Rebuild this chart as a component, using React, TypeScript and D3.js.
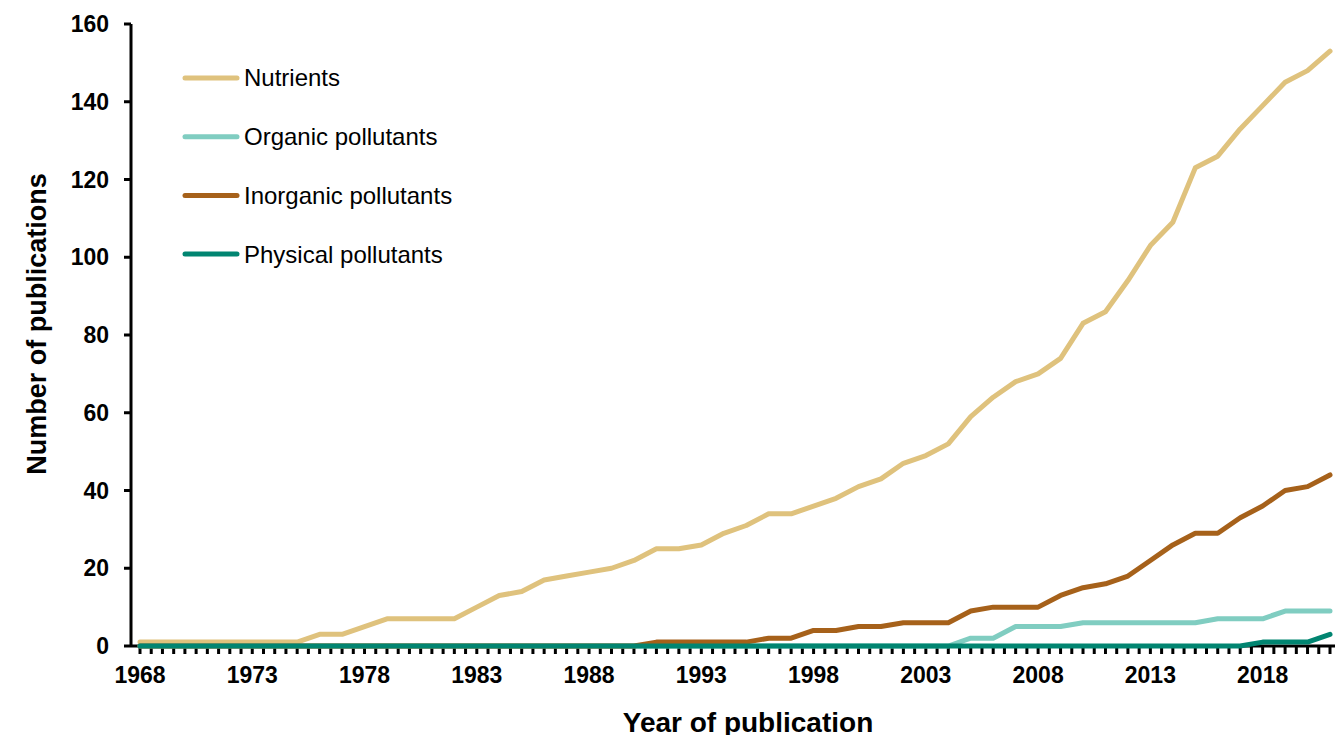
import { useRef, useEffect } from "react";
import * as d3 from "d3";

const years = d3.range(1968, 2022);

const nutrients = [
  1, 1, 1, 1, 1, 1, 1, 1, 3, 3, 5, 7, 7, 7, 7, 10, 13, 14, 17, 18, 19, 20, 22, 25, 25, 26, 29,
  31, 34, 34, 36, 38, 41, 43, 47, 49, 52, 59, 64, 68, 70, 74, 83, 86, 94, 103, 109, 123, 126,
  133, 139, 145, 148, 153,
];
const organic = [
  0, 0, 0, 0, 0, 0, 0, 0, 0, 0, 0, 0, 0, 0, 0, 0, 0, 0, 0, 0, 0, 0, 0, 0, 0, 0, 0, 0, 0, 0, 0,
  0, 0, 0, 0, 0, 0, 2, 2, 5, 5, 5, 6, 6, 6, 6, 6, 6, 7, 7, 7, 9, 9, 9,
];
const inorganic = [
  0, 0, 0, 0, 0, 0, 0, 0, 0, 0, 0, 0, 0, 0, 0, 0, 0, 0, 0, 0, 0, 0, 0, 1, 1, 1, 1, 1, 2, 2, 4,
  4, 5, 5, 6, 6, 6, 9, 10, 10, 10, 13, 15, 16, 18, 22, 26, 29, 29, 33, 36, 40, 41, 44,
];
const physical = [
  0, 0, 0, 0, 0, 0, 0, 0, 0, 0, 0, 0, 0, 0, 0, 0, 0, 0, 0, 0, 0, 0, 0, 0, 0, 0, 0, 0, 0, 0, 0,
  0, 0, 0, 0, 0, 0, 0, 0, 0, 0, 0, 0, 0, 0, 0, 0, 0, 0, 0, 1, 1, 1, 3,
];

const seriesNames = ["Nutrients", "Organic pollutants", "Inorganic pollutants", "Physical pollutants"];
const seriesColors = ["#dfc27d", "#80cdc1", "#a6611a", "#018571"];
const seriesValues = [nutrients, organic, inorganic, physical];

const yTicks = [0, 20, 40, 60, 80, 100, 120, 140, 160];
const xLabelYears = d3.range(1968, 2022, 5);

const font = "'Liberation Sans', Arial, sans-serif";

function PublicationsChart() {
  const svgRef = useRef<SVGSVGElement>(null);

  useEffect(() => {
    drawChart();
  }, []);

  function drawChart() {
    if (!svgRef.current) return;
    const svg = d3.select(svgRef.current);
    svg.selectAll("*").remove();

    const axisX = 131;
    const x = d3.scalePoint<number>().domain(years).range([140, 1330]);
    const y = d3.scaleLinear().domain([0, 160]).range([646, 24]);
    const step = x.step();

    // y axis
    svg
      .append("line")
      .attr("x1", axisX)
      .attr("x2", axisX)
      .attr("y1", y(160))
      .attr("y2", y(0))
      .attr("stroke", "#000")
      .attr("stroke-width", 3);

    svg
      .append("g")
      .selectAll("line")
      .data(yTicks)
      .join("line")
      .attr("x1", axisX - 7)
      .attr("x2", axisX)
      .attr("y1", (d) => y(d))
      .attr("y2", (d) => y(d))
      .attr("stroke", "#000")
      .attr("stroke-width", 3);

    svg
      .append("g")
      .selectAll("text")
      .data(yTicks)
      .join("text")
      .attr("x", 109)
      .attr("y", (d) => y(d))
      .attr("dy", "0.35em")
      .attr("text-anchor", "end")
      .attr("font-family", font)
      .attr("font-weight", "bold")
      .attr("font-size", 23)
      .text((d) => d);

    // x axis with ticks at every half year
    svg
      .append("line")
      .attr("x1", axisX)
      .attr("x2", 1335)
      .attr("y1", y(0))
      .attr("y2", y(0))
      .attr("stroke", "#000")
      .attr("stroke-width", 3);

    const halfTicks = d3.range(0, years.length * 2).map((i) => (x(1968) as number) + (i * step) / 2);
    svg
      .append("g")
      .selectAll("line")
      .data(halfTicks)
      .join("line")
      .attr("x1", (d) => d)
      .attr("x2", (d) => d)
      .attr("y1", y(0))
      .attr("y2", y(0) + 8)
      .attr("stroke", "#000")
      .attr("stroke-width", 3);

    svg
      .append("g")
      .selectAll("text")
      .data(xLabelYears)
      .join("text")
      .attr("x", (d) => x(d) as number)
      .attr("y", 683)
      .attr("text-anchor", "middle")
      .attr("font-family", font)
      .attr("font-weight", "bold")
      .attr("font-size", 23)
      .text((d) => d);

    // axis titles
    svg
      .append("text")
      .attr("x", 748)
      .attr("y", 732)
      .attr("text-anchor", "middle")
      .attr("font-family", font)
      .attr("font-weight", "bold")
      .attr("font-size", 28)
      .text("Year of publication");

    svg
      .append("text")
      .attr("transform", "translate(46, 324) rotate(-90)")
      .attr("text-anchor", "middle")
      .attr("font-family", font)
      .attr("font-weight", "bold")
      .attr("font-size", 27)
      .text("Number of publications");

    // lines
    const line = d3
      .line<number>()
      .x((_, i) => x(years[i]) as number)
      .y((d) => y(d));

    seriesValues.forEach((vals, k) => {
      svg
        .append("path")
        .datum(vals)
        .attr("fill", "none")
        .attr("stroke", seriesColors[k])
        .attr("stroke-width", 5)
        .attr("stroke-linejoin", "round")
        .attr("stroke-linecap", "round")
        .attr("d", line);
    });

    // legend
    const legend = svg
      .append("g")
      .selectAll("g")
      .data(seriesNames)
      .join("g")
      .attr("transform", (_, i) => `translate(0, ${78 + i * 58.7})`);

    legend
      .append("line")
      .attr("x1", 185)
      .attr("x2", 237)
      .attr("stroke", (_, i) => seriesColors[i])
      .attr("stroke-width", 5)
      .attr("stroke-linecap", "round");

    legend
      .append("text")
      .attr("x", 244)
      .attr("dy", "0.35em")
      .attr("font-family", font)
      .attr("font-size", 24)
      .text((d) => d);
  }

  return (
    <svg
      ref={svgRef}
      width={1335}
      height={735}
      style={{ position: "absolute", top: 0, left: 0, background: "#fff" }}
    />
  );
}

export default function App() {
  return <PublicationsChart />;
}
